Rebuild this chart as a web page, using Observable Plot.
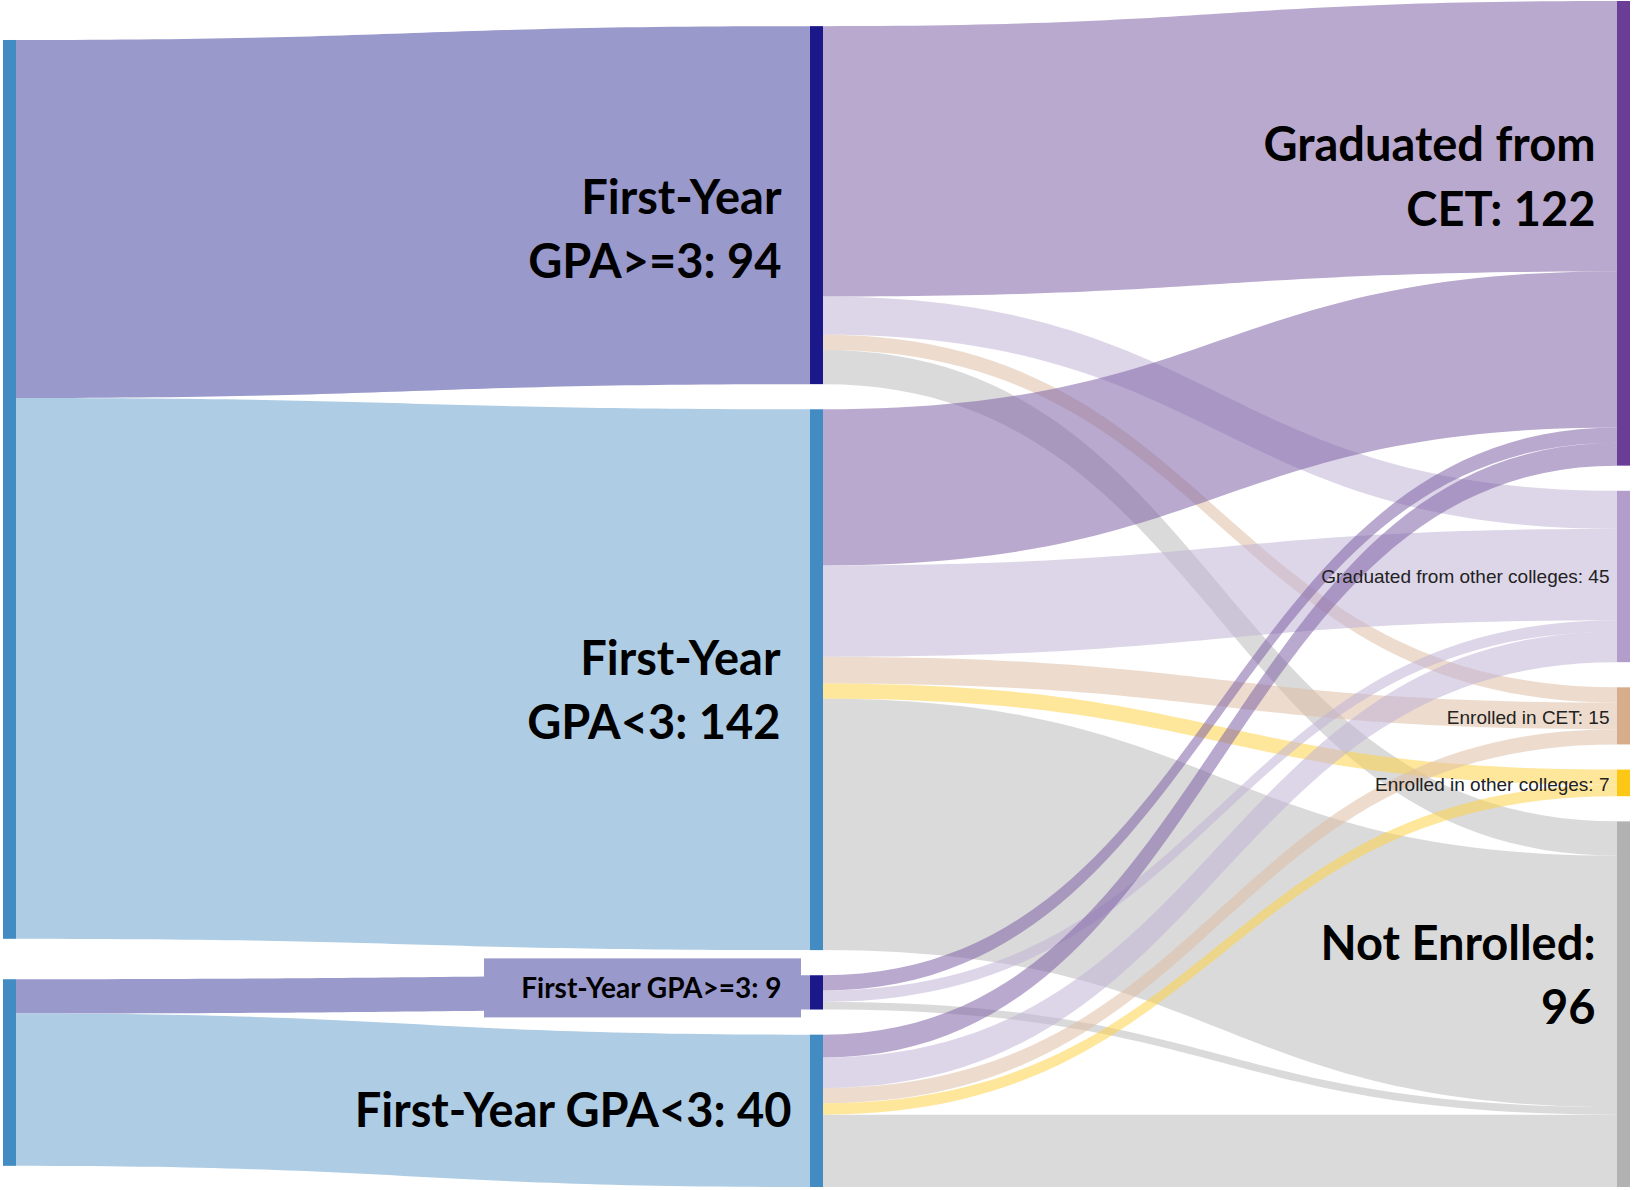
<!DOCTYPE html>
<html>
<head>
<meta charset="utf-8">
<script src="https://cdn.jsdelivr.net/npm/d3@7"></script>
<script src="https://cdn.jsdelivr.net/npm/@observablehq/plot@0.6"></script>
<style>
  html, body { margin: 0; padding: 0; background: #fff; }
  #chart svg { display: block; }
</style>
</head>
<body>
<div id="chart"></div>
<script>
// ---------------- DATA ----------------
const nodeIds     = ["L1", "L2", "M1", "M2", "M3", "M4", "GC", "GO", "EC", "EO", "NE"];
const nodeNames   = ["Cohort A", "Cohort B",
                     "First-Year GPA>=3", "First-Year GPA<3", "First-Year GPA>=3", "First-Year GPA<3",
                     "Graduated from CET", "Graduated from other colleges", "Enrolled in CET",
                     "Enrolled in other colleges", "Not Enrolled"];
const nodeColumns = [0, 0, 1, 1, 1, 1, 2, 2, 2, 2, 2];
const nodeLabels  = ["", "",
                     "First-Year\nGPA>=3: 94", "First-Year\nGPA<3: 142", "First-Year GPA>=3: 9", "First-Year GPA<3: 40",
                     "Graduated from\nCET: 122", "Graduated from other colleges: 45", "Enrolled in CET: 15",
                     "Enrolled in other colleges: 7", "Not Enrolled:\n96"];

const linkSources = ["L1","L1","L2","L2",
                     "M1","M1","M1","M1",
                     "M2","M2","M2","M2","M2",
                     "M3","M3","M3",
                     "M4","M4","M4","M4","M4"];
const linkTargets = ["M1","M2","M3","M4",
                     "GC","GO","EC","NE",
                     "GC","GO","EC","EO","NE",
                     "GC","GO","NE",
                     "GC","GO","EC","EO","NE"];
const linkValues  = [94, 142, 9, 40,
                     71, 10, 4, 9,
                     41, 24, 7, 4, 66,
                     4, 3, 2,
                     6, 8, 4, 3, 19];

// ---------------- STYLE ----------------
const nodeColor = {L1:"#428bc3", L2:"#428bc3", M1:"#1b198a", M2:"#428bc3", M3:"#1b198a", M4:"#428bc3",
                   GC:"#6a3d96", GO:"#b39dcb", EC:"#d6ae8c", EO:"#fdc716", NE:"#b2b2b2"};
const linkColor = {M1:"#9999cb", M2:"#aecde5", M3:"#9999cb", M4:"#aecde5",
                   GC:"#8063a6", GO:"#c1b3d5", EC:"#debfa6", EO:"#fdd349", NE:"#bcbcbc"};
const labelStyle = {
  M1: {size: 47, dx: -29, dy: 20, bold: true},
  M2: {size: 47, dx: -30, dy: 6, bold: true},
  M3: {size: 28, dx: -29, dy: -7, bold: true},
  M4: {size: 47, dx: -19, dy: -5, bold: true},
  GC: {size: 47, dx: -22, dy: -61, bold: true},
  GO: {size: 19, dx: -8, dy: 0, bold: false},
  EC: {size: 19, dx: -8, dy: 2, bold: false},
  EO: {size: 19, dx: -8, dy: 1, bold: false},
  NE: {size: 47, dx: -22, dy: -33, bold: true}
};

const W = 1634, Hpx = 1190;
const marginLeft = 3, marginRight = 17, marginTop = 1, marginBottom = 3;
const gap = 6.6;            // node padding, in data units (students)
const nodeWpx = 13;         // node thickness in px
const relax = 0.5;          // relaxation factor for the first column

// ---------------- LAYOUT ----------------
const nodes = nodeIds.map((id, i) => ({id, name: nodeNames[i], col: nodeColumns[i], label: nodeLabels[i]}));
const byId = new Map(nodes.map(n => [n.id, n]));
const links = linkSources.map((s, i) => ({id: i, source: byId.get(s), target: byId.get(linkTargets[i]), value: linkValues[i]}));
for (const n of nodes) {
  n.out = links.filter(l => l.source === n);
  n.in = links.filter(l => l.target === n);
  n.value = Math.max(d3.sum(n.out, l => l.value), d3.sum(n.in, l => l.value));
}
const cols = d3.range(3).map(c => nodes.filter(n => n.col === c));
const colTotals = cols.map(ns => d3.sum(ns, n => n.value) + gap * (ns.length - 1));
const H = d3.max(colTotals);
function stack(ns, start) { let y = start; for (const n of ns) { n.y0 = y; n.y1 = y + n.value; y = n.y1 + gap; } }
stack(cols[2], 0);
stack(cols[1], H - colTotals[1]);
stack(cols[0], (H - colTotals[0]) / 2);
for (const n of cols[0]) {
  const target = d3.sum(n.out, l => l.value * (l.target.y0 + l.target.y1) / 2) / n.value;
  const c = (n.y0 + n.y1) / 2;
  const nc = c + (target - c) * relax;
  n.y0 = nc - n.value / 2; n.y1 = nc + n.value / 2;
}
for (const n of nodes) {
  let y = n.y0;
  n.out.slice().sort((a, b) => a.target.y0 - b.target.y0).forEach(l => { l.sy0 = y; l.sy1 = y + l.value; y += l.value; });
  y = n.y0;
  n.in.slice().sort((a, b) => a.source.y0 - b.source.y0).forEach(l => { l.ty0 = y; l.ty1 = y + l.value; y += l.value; });
}
const kx = (W - marginLeft - marginRight) / 2;    // px per column unit
const ky = (Hpx - marginTop - marginBottom) / H;  // px per student
const nodeW = nodeWpx / kx;

const pts = [];
const N = 60;
for (const l of links) {
  const xs = l.source.col + nodeW, xt = l.target.col, xm = (xs + xt) / 2;
  for (let k = 0; k <= N; k++) {
    const t = k / N, u = 1 - t;
    const x = u*u*u*xs + 3*u*u*t*xm + 3*u*t*t*xm + t*t*t*xt;
    const b = 3*t*t - 2*t*t*t;
    pts.push({id: l.id, stage: l.source.col, x,
              y0: l.sy0 + (l.ty0 - l.sy0) * b,
              y1: l.sy1 + (l.ty1 - l.sy1) * b,
              color: linkColor[l.target.id]});
  }
}

const lab = nodes.filter(n => labelStyle[n.id]).map(n => ({...n, st: labelStyle[n.id]}));
const boxNode = nodes.filter(n => n.id === "M3");

const chart = Plot.plot({
  width: W, height: Hpx,
  marginLeft, marginRight, marginTop, marginBottom,
  x: {domain: [0, 2], axis: null},
  y: {domain: [0, H], reverse: true, axis: null},
  color: {type: "identity"},
  style: {background: "#fff"},
  marks: [
    Plot.areaY(pts.filter(p => p.stage === 0), {x: "x", y1: "y0", y2: "y1", z: "id", fill: "color", curve: "linear"}),
    Plot.areaY(pts.filter(p => p.stage === 1), {x: "x", y1: "y0", y2: "y1", z: "id", fill: "color", fillOpacity: 0.55, curve: "linear"}),
    Plot.rect(nodes, {x1: d => d.col, x2: d => d.col + nodeW, y1: "y0", y2: "y1", fill: d => nodeColor[d.id]}),
    Plot.rect(boxNode, {x1: d => d.col, x2: d => d.col, y1: d => (d.y0 + d.y1) / 2, y2: d => (d.y0 + d.y1) / 2,
                        insetLeft: -326, insetRight: 9, insetTop: -34, insetBottom: -25, fill: "#9999cb"}),
    Plot.text(lab.filter(d => d.st.bold), {
      x: d => d.col + d.st.dx / kx, y: d => (d.y0 + d.y1) / 2 + d.st.dy / ky,
      text: "label", fontSize: d => d.st.size, textAnchor: "end", lineAnchor: "middle",
      lineHeight: 1.37, fontFamily: "Lato", fontWeight: 700, fill: "#000"
    }),
    Plot.text(lab.filter(d => !d.st.bold), {
      x: d => d.col + d.st.dx / kx, y: d => (d.y0 + d.y1) / 2 + d.st.dy / ky,
      text: "label", fontSize: d => d.st.size, textAnchor: "end", lineAnchor: "middle",
      fontFamily: "Liberation Sans, Arial, sans-serif", fontWeight: 400, fill: "#222"
    })
  ]
});
document.getElementById("chart").appendChild(chart);
</script>
</body>
</html>
